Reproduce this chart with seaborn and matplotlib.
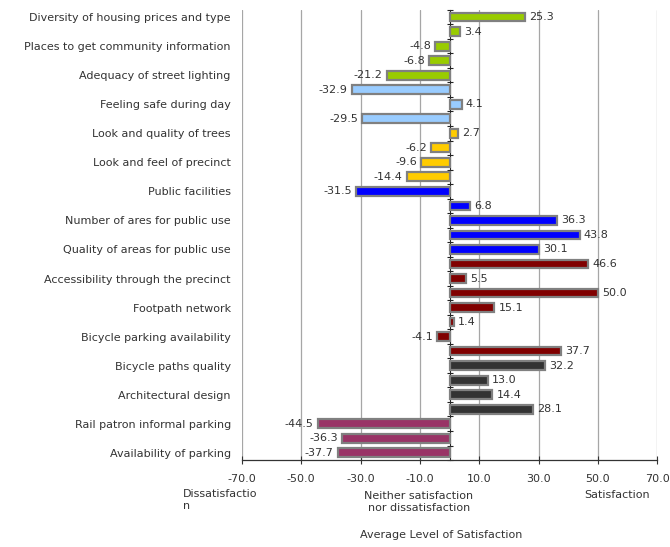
import numpy as np
import pandas as pd
import matplotlib
matplotlib.use("Agg")
import matplotlib.pyplot as plt
import seaborn as sns

# every second bar carries a label in the reference
labels = [
    "Diversity of housing prices and type",
    "Places to get community information",
    "Adequacy of street lighting",
    "Feeling safe during day",
    "Look and quality of trees",
    "Look and feel of precinct",
    "Public facilities",
    "Number of ares for public use",
    "Quality of areas for public use",
    "Accessibility through the precinct",
    "Footpath network",
    "Bicycle parking availability",
    "Bicycle paths quality",
    "Architectural design",
    "Rail patron informal parking",
    "Availability of parking",
]
values = [25.3, 3.4, -4.8, -6.8, -21.2,
          -32.9, 4.1, -29.5,
          2.7, -6.2, -9.6, -14.4,
          -31.5, 6.8, 36.3, 43.8, 30.1,
          46.6, 5.5, 50.0, 15.1, 1.4, -4.1, 37.7,
          32.2, 13.0, 14.4, 28.1,
          -44.5, -36.3, -37.7]
groups = (["g1"] * 5 + ["g2"] * 3 + ["g3"] * 4 + ["g4"] * 5
          + ["g5"] * 7 + ["g6"] * 4 + ["g7"] * 3)
group_colors = {"g1": "#99CC00", "g2": "#99CCFF", "g3": "#FFCC00",
                "g4": "#0000FF", "g5": "#800000", "g6": "#333333",
                "g7": "#993366"}
x_ticks = [-70, -50, -30, -10, 10, 30, 50, 70]

df = pd.DataFrame({"row": [str(i) for i in range(len(values))],
                   "value": values, "group": groups})

sns.set_style("white")
plt.rcParams["font.family"] = ["DejaVu Sans"]
txt = "#333333"

fig = plt.figure(figsize=(6.7, 5.47), dpi=100)
ax = fig.add_axes([0.361, 0.159, 0.62, 0.823])

sns.barplot(data=df, x="value", y="row", hue="group", palette=group_colors,
            saturation=1, dodge=False, width=0.6, edgecolor="#808080",
            linewidth=1.6, legend=False, ax=ax)

ax.set_xlim(-70, 70)
ax.set_ylim(len(values) - 0.5, -0.5)
ax.set_xticks(x_ticks)
ax.set_xticklabels([f"{t:.1f}" for t in x_ticks], fontsize=8, color=txt)
ax.set_yticks(np.arange(0, len(values), 2))
ax.set_yticklabels(labels, fontsize=8, color=txt)
ax.tick_params(axis="y", length=0, pad=8)
ax.tick_params(axis="x", direction="inout", length=6, width=0.8, pad=7,
               bottom=True, color="#333333")
ax.set_xlabel("")
ax.set_ylabel("")
ax.grid(axis="x", color="#A6A6A6", lw=0.9)
ax.set_axisbelow(True)
for s in ["left", "right", "top"]:
    ax.spines[s].set_visible(False)
ax.spines["bottom"].set_color("#333333")
ax.spines["bottom"].set_linewidth(0.9)

# category axis sits at zero with ticks between the bars
sec = ax.secondary_yaxis(0.5)
sec.set_yticks(np.arange(-0.5, len(values), 1))
sec.set_yticklabels([])
sec.tick_params(direction="inout", length=5, width=0.8, color="#222222")
sec.spines["left"].set_color("#222222")
sec.spines["left"].set_linewidth(1.0)

for i, v in enumerate(values):
    ax.annotate(f"{v:.1f}", (v, i), xytext=(3 if v >= 0 else -3, 0),
                textcoords="offset points", va="center",
                ha="left" if v >= 0 else "right", fontsize=8, color=txt)

fig.text(183 / 670, 1 - 500 / 547, "Dissatisfactio\nn", ha="left",
         va="center", fontsize=8, color=txt, linespacing=1.3)
fig.text(419 / 670, 1 - 502 / 547, "Neither satisfaction\nnor dissatisfaction",
         ha="center", va="center", fontsize=8, color=txt, linespacing=1.3)
fig.text(617 / 670, 1 - 495 / 547, "Satisfaction", ha="center", va="center",
         fontsize=8, color=txt)
fig.text(441 / 670, 1 - 535 / 547, "Average Level of Satisfaction",
         ha="center", va="center", fontsize=8, color=txt)

fig.savefig("out.png", dpi=100)
